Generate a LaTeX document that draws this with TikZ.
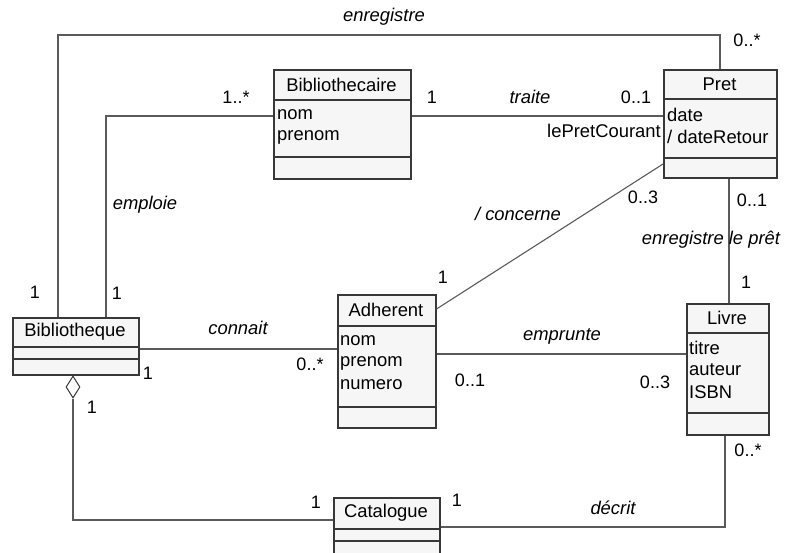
\documentclass[tikz,border=0pt]{standalone}
\usepackage{fontspec}
\setmainfont{Liberation Sans}
\usetikzlibrary{calc,shapes.geometric}
\definecolor{boxline}{HTML}{383838}
\definecolor{boxfill}{HTML}{F6F6F6}
\definecolor{connc}{HTML}{5A5A5A}
\begin{document}
\begin{tikzpicture}[x=1pt,y=-1pt,
  umlbox/.style={draw=boxline, fill=boxfill, line width=1.5pt, inner sep=0pt, anchor=north west},
  divl/.style={draw=boxline, line width=1.2pt},
  conn/.style={draw=connc, line width=1.1pt},
  ttl/.style={inner sep=0pt, font=\fontsize{18.4}{22}\selectfont},
  attr/.style={inner sep=0pt, anchor=west, font=\fontsize{18.4}{22}\selectfont},
  lbl/.style={inner sep=0pt, font=\fontsize{18.4}{22}\selectfont\itshape},
  mult/.style={inner sep=0pt, font=\fontsize{18}{22}\selectfont}]
\clip (0,0) rectangle (785,552);
\fill[white] (0,0) rectangle (785,552);

% connectors (drawn first, boxes over them)
\coordinate (bqA) at (58,317);
% Bibliotheque
\node[umlbox, minimum width=126pt, minimum height=57pt] (bq) at (12,317) {};
\node[umlbox, minimum width=137pt, minimum height=109pt] (bth) at (273,69) {};
\node[umlbox, minimum width=113pt, minimum height=108pt] (pret) at (663,69) {};
\node[umlbox, minimum width=98pt, minimum height=133pt] (adh) at (337,294) {};
\node[umlbox, minimum width=82pt, minimum height=131pt] (livre) at (686,303) {};
\node[umlbox, minimum width=106pt, minimum height=80pt] (cat) at (333,497) {};

% dividers
\draw[divl] (12,347) -- (138,347) (12,359) -- (138,359);
\draw[divl] (273,100) -- (410,100) (273,157) -- (410,157);
\draw[divl] (663,99) -- (776,99) (663,158) -- (776,158);
\draw[divl] (337,326) -- (435,326) (337,407) -- (435,407);
\draw[divl] (686,333) -- (768,333) (686,413) -- (768,413);
\draw[divl] (333,529) -- (439,529) (333,541) -- (439,541);

% titles
\node[ttl] (tbq) at (75,332) {Bibliotheque};
\node[ttl] (tbth) at (341.5,85) {Bibliothecaire};
\node[ttl] (tpret) at (719.5,84) {Pret};
\node[ttl] (tadh) at (386,310) {Adherent};
\node[ttl] (tlivre) at (727,318) {Livre};
\node[ttl] (tcat) at (386,513) {Catalogue};

% attributes
\node[attr] (a1) at (277,115) {nom};
\node[attr] (a2) at (277,137) {prenom};
\node[attr] (a3) at (667,115) {date};
\node[attr] (a4) at (667,137) {/ dateRetour};
\node[attr] (a5) at (340,341) {nom};
\node[attr] (a6) at (340,363) {prenom};
\node[attr] (a7) at (340,385) {numero};
\node[attr] (a8) at (689,348) {titre};
\node[attr] (a9) at (689,370) {auteur};
\node[attr] (a10) at (689,392) {ISBN};

% aggregation diamond
\node[draw=boxline, fill=white, line width=1pt, diamond, aspect=0.64, minimum width=14pt, minimum height=22pt, inner sep=0pt] (agg) at (73,387) {};

% connectors
\draw[conn] ($(bq.north west)+(46,0)$) |- ($(pret.north west)+(57,-34)$) -- ($(pret.north west)+(57,0)$);
\draw[conn] ($(bq.north west)+(94,0)$) |- ($(bth.north west)+(0,47)$);
\draw[conn] ($(bth.north east)+(0,47)$) -- ($(pret.north west)+(0,47)$);
\draw[conn] ($(adh.north east)+(0,15)$) -- ($(pret.north west)+(0,95)$);
\draw[conn] ($(pret.south west)+(66,0)$) -- ($(livre.north west)+(43,0)$);
\draw[conn] ($(bq.north east)+(0,32)$) -- ($(adh.north west)+(0,55)$);
\draw[conn] ($(adh.north east)+(0,60)$) -- ($(livre.north west)+(0,51)$);
\draw[conn] (agg.south) |- ($(cat.north west)+(0,23)$);
\draw[conn] ($(cat.north east)+(0,30)$) -| ($(livre.south west)+(39,0)$);

% association labels
\node[lbl] (l1) at (384,17) {enregistre};
\node[lbl] (l2) at (145,205) {emploie};
\node[lbl] (l3) at (530,97) {traite};
\node[lbl] (l4) at (518,214) {/ concerne};
\node[lbl] (l5) at (711,240) {enregistre le prêt};
\node[lbl] (l6) at (238,328) {connait};
\node[lbl] (l7) at (562,336) {emprunte};
\node[lbl] (l8) at (613,508) {décrit};
\node[ttl] (l9) at (604,131) {lePretCourant};

% multiplicities
\node[mult] (m1) at (747,40) {0..*};
\node[mult] (m2) at (236,97) {1..*};
\node[mult] (m3) at (432,97) {1};
\node[mult] (m4) at (636,97) {0..1};
\node[mult] (m5) at (643,197) {0..3};
\node[mult] (m6) at (752,200) {0..1};
\node[mult] (m7) at (746,282) {1};
\node[mult] (m8) at (443,277) {1};
\node[mult] (m9) at (35,292) {1};
\node[mult] (m10) at (117,293) {1};
\node[mult] (m11) at (310,364) {0..*};
\node[mult] (m12) at (148,373) {1};
\node[mult] (m13) at (470,380) {0..1};
\node[mult] (m14) at (655,382) {0..3};
\node[mult] (m15) at (92,407) {1};
\node[mult] (m16) at (316,502) {1};
\node[mult] (m17) at (457,500) {1};
\node[mult] (m18) at (748,450) {0..*};
\end{tikzpicture}
\end{document}
